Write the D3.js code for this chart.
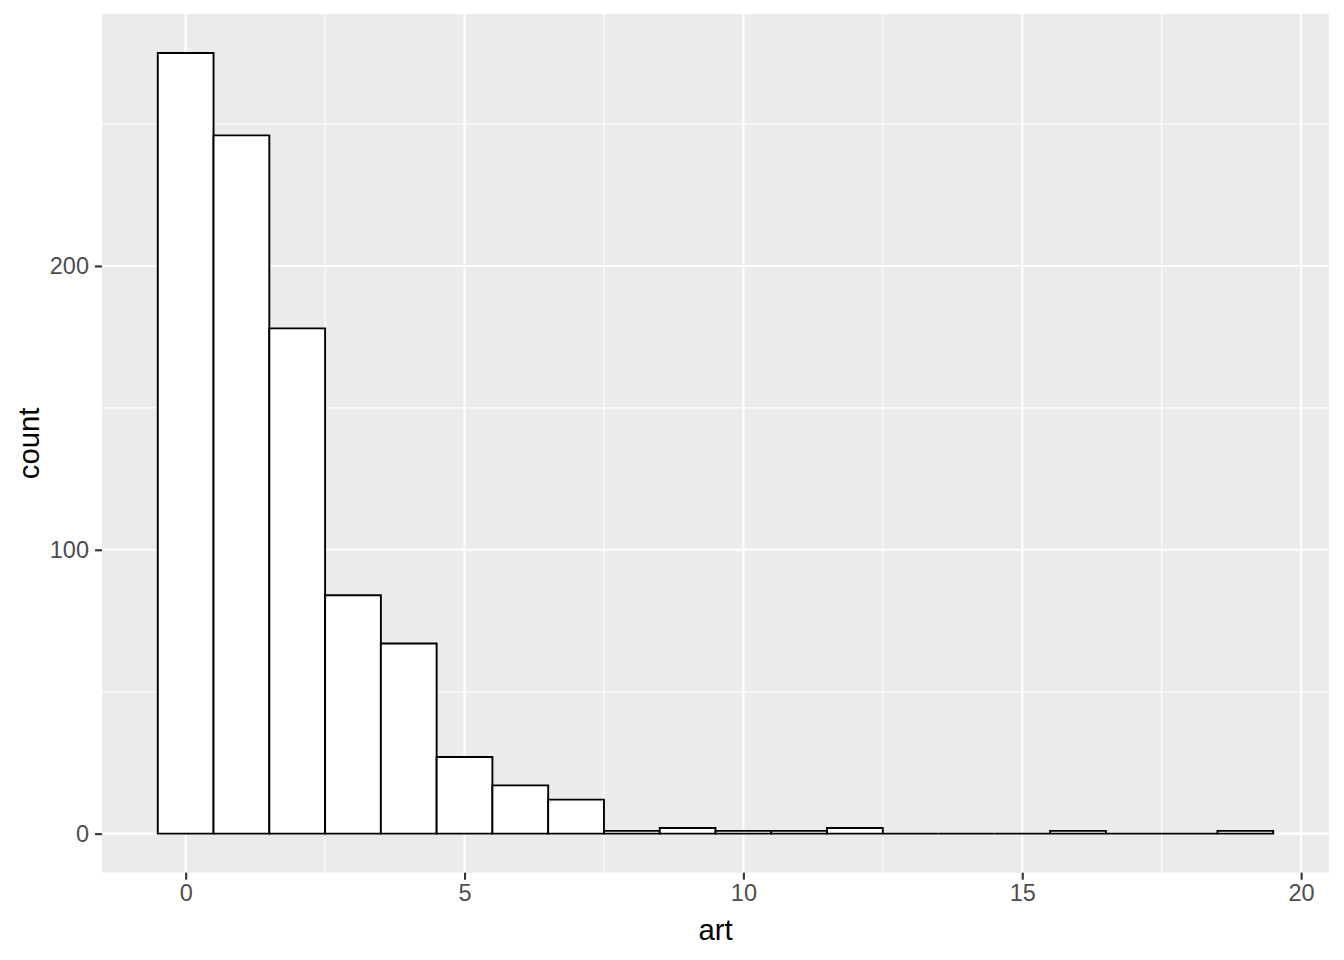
<!DOCTYPE html>
<html>
<head>
<meta charset="utf-8">
<script src="https://cdn.jsdelivr.net/npm/d3@7"></script>
<style>
html,body{margin:0;padding:0;background:#fff;}
svg{display:block;font-family:"Liberation Sans",Arial,sans-serif;}
</style>
</head>
<body>
<svg id="chart" width="1344" height="960"></svg>
<script>
const artValues = [0,1,2,3,4,5,6,7,8,9,10,11,12,13,14,15,16,17,18,19];
const counts    = [275,246,178,84,67,27,17,12,1,2,1,1,2,0,0,0,1,0,0,1];
const xTicks = [0,5,10,15,20];
const xMinor = [2.5,7.5,12.5,17.5];
const yTicks = [0,100,200];
const yMinor = [50,150,250];

const svg = d3.select("#chart");
const panel = {left:102, right:1329, top:14, bottom:872.7};

const x = d3.scaleLinear().domain([-1.5,20.5]).range([panel.left,panel.right]);
const y = d3.scaleLinear().domain([-13.75,288.75]).range([panel.bottom,panel.top]);

svg.append("rect").attr("x",panel.left).attr("y",panel.top)
  .attr("width",panel.right-panel.left).attr("height",panel.bottom-panel.top)
  .attr("fill","#EBEBEB");

const g = svg.append("g");
// minor grid
g.selectAll(".xm").data(xMinor).join("line")
  .attr("x1",d=>x(d)).attr("x2",d=>x(d)).attr("y1",panel.top).attr("y2",panel.bottom)
  .attr("stroke","#fff").attr("stroke-width",1.1);
g.selectAll(".ym").data(yMinor).join("line")
  .attr("y1",d=>y(d)).attr("y2",d=>y(d)).attr("x1",panel.left).attr("x2",panel.right)
  .attr("stroke","#fff").attr("stroke-width",1.1);
// major grid
g.selectAll(".xM").data(xTicks).join("line")
  .attr("x1",d=>x(d)).attr("x2",d=>x(d)).attr("y1",panel.top).attr("y2",panel.bottom)
  .attr("stroke","#fff").attr("stroke-width",2.1);
g.selectAll(".yM").data(yTicks).join("line")
  .attr("y1",d=>y(d)).attr("y2",d=>y(d)).attr("x1",panel.left).attr("x2",panel.right)
  .attr("stroke","#fff").attr("stroke-width",2.1);

// bars (as closed paths so zero-count bins still draw their outline)
svg.append("g").selectAll("path").data(artValues).join("path")
  .attr("d",(d,i)=>{
    const x0=x(d-0.5), x1=x(d+0.5), y0=y(0), y1=y(counts[i]);
    return `M${x0},${y0}L${x0},${y1}L${x1},${y1}L${x1},${y0}Z`;
  })
  .attr("fill","#fff").attr("stroke","#000").attr("stroke-width",1.9)
  .attr("stroke-linejoin","miter");

// axes
const xAxis = d3.axisBottom(x).tickValues(xTicks).tickSize(7).tickPadding(5).tickFormat(d3.format("d"));
const xg = svg.append("g").attr("transform",`translate(0,${panel.bottom})`).call(xAxis);
xg.select(".domain").remove();
xg.selectAll(".tick line").attr("stroke","#333").attr("stroke-width",2.1);
xg.selectAll(".tick text").attr("fill","#4D4D4D").style("font-size","23.5px")
  .style("font-family","Liberation Sans, Arial, sans-serif");

const yAxis = d3.axisLeft(y).tickValues(yTicks).tickSize(7).tickPadding(6).tickFormat(d3.format("d"));
const yg = svg.append("g").attr("transform",`translate(${panel.left},0)`).call(yAxis);
yg.select(".domain").remove();
yg.selectAll(".tick line").attr("stroke","#333").attr("stroke-width",2.1);
yg.selectAll(".tick text").attr("fill","#4D4D4D").style("font-size","23.5px")
  .style("font-family","Liberation Sans, Arial, sans-serif");

// titles
svg.append("text").attr("x",(panel.left+panel.right)/2).attr("y",940)
  .attr("text-anchor","middle").style("font-size","29.3px").attr("fill","#000").text("art");
svg.append("text").attr("transform",`translate(39,${(panel.top+panel.bottom)/2}) rotate(-90)`)
  .attr("text-anchor","middle").style("font-size","29.3px").attr("fill","#000").text("count");
</script>
</body>
</html>
